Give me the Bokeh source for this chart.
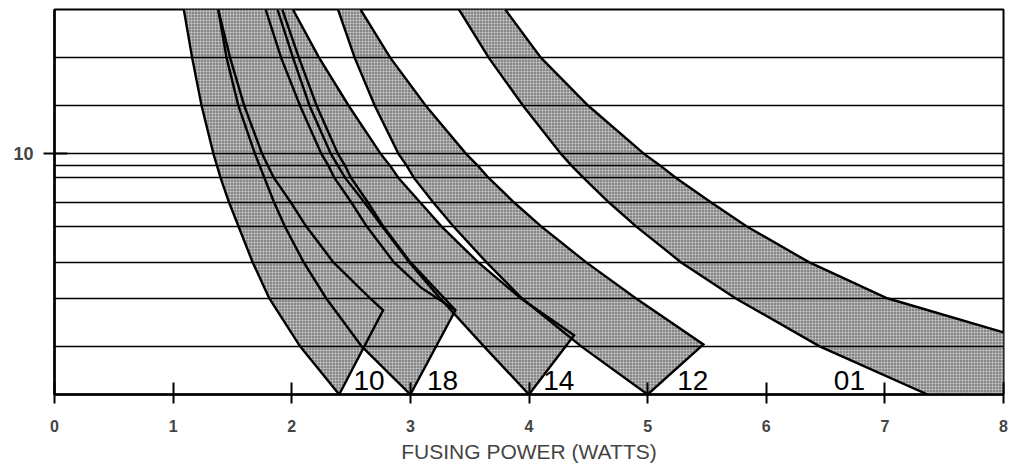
from bokeh.plotting import figure
from bokeh.models import Range1d, FixedTicker
from bokeh.embed import file_html
from bokeh.resources import INLINE
from bokeh.core.properties import value

# ---------------- data ----------------
X_TICKS = [0, 1, 2, 3, 4, 5, 6, 7, 8]
GRID_Y = [1, 2, 2.75, 3.5, 4, 4.5, 4.75, 5, 6, 7]
Y_TICK = [5]
Y_TICK_LABEL = {5: "10"}

# y levels at which the band edges were read
Y_LEV = [8, 7, 6, 5, 4.75, 4.5, 4, 3.5, 2.75, 2, 1, 0]

# band "10"
B10_L = [1.09, 1.16, 1.24, 1.34, 1.37, 1.40, 1.47, 1.55, 1.67, 1.81, 2.07, 2.40]
B10_R = [1.38, 1.48, 1.60, 1.75, 1.80, 1.85, 1.99, 2.12, 2.35, 2.66]
B10_TIP = (2.77, 1.75)
# band "18"
B18_L = [1.38, 1.45, 1.55, 1.69, 1.73, 1.77, 1.85, 1.94, 2.10, 2.29, 2.59, 3.00]
B18_R = [1.92, 2.06, 2.21, 2.39, 2.45, 2.50, 2.64, 2.77, 3.00]
B18_TIP = (3.38, 1.75)
B18_INNER_X = [1.78, 1.91, 2.07, 2.25, 2.31, 2.36, 2.50, 2.63, 2.86, 3.09]
B18_INNER_Y = [8, 7, 6, 5, 4.75, 4.5, 4, 3.5, 2.75, 2.22]
# band "14"
B14_L = [1.88, 2.01, 2.15, 2.33, 2.39, 2.45, 2.61, 2.76, 2.99, 3.25, 3.62, 4.00]
B14_R = [2.01, 2.23, 2.48, 2.75, 2.83, 2.90, 3.08, 3.26, 3.57, 3.93]
B14_TIP = (4.38, 1.23)
# band "12"
B12_L = [2.39, 2.53, 2.70, 2.90, 2.97, 3.03, 3.19, 3.36, 3.64, 3.94, 4.44, 5.00]
B12_R = [2.58, 2.83, 3.13, 3.47, 3.57, 3.66, 3.87, 4.10, 4.48, 4.90]
B12_TIP = (5.47, 1.04)
# band "01"
B01_L = [3.41, 3.66, 3.95, 4.27, 4.36, 4.46, 4.67, 4.90, 5.28, 5.74, 6.45, 7.36]
B01_R = [3.80, 4.10, 4.50, 4.97, 5.11, 5.24, 5.53, 5.83, 6.36, 7.02]
B01_END = (8.0, 1.29)

LABELS = ["10", "18", "14", "12", "01"]
LABEL_X = [2.52, 3.14, 4.12, 5.25, 6.57]
LABEL_Y = 0.1

X_MIN, X_MAX, Y_MIN, Y_MAX = 0, 8, 0, 8

# ---------------- figure ----------------
p = figure(width=1012, height=467,
           x_range=Range1d(X_MIN, X_MAX), y_range=Range1d(Y_MIN, Y_MAX),
           output_backend="svg", toolbar_location=None,
           min_border_left=54, min_border_right=9,
           min_border_top=9, min_border_bottom=73)
p.background_fill_color = "white"
p.border_fill_color = "white"
p.outline_line_color = "black"
p.outline_line_width = 2

tip_bands = [(B10_L, B10_R, B10_TIP), (B18_L, B18_R, B18_TIP),
             (B14_L, B14_R, B14_TIP), (B12_L, B12_R, B12_TIP)]

fill_xs, fill_ys, line_xs, line_ys = [], [], [], []
for lx, rx, tip in tip_bands:
    ry = Y_LEV[:len(rx)]
    xs = list(lx) + [tip[0]] + list(rx)[::-1]
    ys = list(Y_LEV) + [tip[1]] + list(ry)[::-1]
    fill_xs.append(xs)
    fill_ys.append(ys)
    line_xs.append(xs)
    line_ys.append(ys)

# band 01 reaches the right border
r01y = Y_LEV[:len(B01_R)]
fill_xs.append(list(B01_L) + [X_MAX, B01_END[0]] + list(B01_R)[::-1])
fill_ys.append(list(Y_LEV) + [Y_MIN, B01_END[1]] + list(r01y)[::-1])
line_xs.append(list(B01_L))
line_ys.append(list(Y_LEV))
line_xs.append(list(B01_R) + [B01_END[0]])
line_ys.append(list(r01y) + [B01_END[1]])

# inner line in band 18
line_xs.append(list(B18_INNER_X) + [B18_TIP[0]])
line_ys.append(list(B18_INNER_Y) + [B18_TIP[1]])

p.patches(fill_xs, fill_ys, fill_color="#878787", line_color=None,
          hatch_pattern="cross", hatch_color="white", hatch_alpha=0.4,
          hatch_scale=3, hatch_weight=0.8)
p.multi_line(line_xs, line_ys, line_color="black", line_width=2.4,
             line_join="miter")

p.text(x=LABEL_X, y=[LABEL_Y] * len(LABELS), text=LABELS,
       text_font=value("Liberation Sans"), text_font_size="28px",
       text_baseline="bottom", text_align="left", text_color="black")

# grid
p.xgrid.visible = False
p.ygrid.ticker = FixedTicker(ticks=GRID_Y)
p.ygrid.grid_line_color = "black"
p.ygrid.grid_line_width = 1.4
p.ygrid.level = "guide"

# x axis
xa = p.xaxis[0]
xa.ticker = FixedTicker(ticks=X_TICKS)
xa.axis_label = "FUSING POWER (WATTS)"
xa.axis_label_text_font = "Liberation Sans"
xa.axis_label_text_font_size = "21px"
xa.axis_label_text_font_style = "normal"
xa.axis_label_standoff = 5
xa.major_label_text_font = "Liberation Sans"
xa.major_label_text_font_size = "16px"
xa.major_label_text_font_style = "bold"
xa.major_label_standoff = 16
xa.major_tick_in = 12
xa.major_tick_out = 9
xa.major_tick_line_width = 2
xa.axis_line_width = 2.5
xa.minor_tick_line_color = None

# y axis
ya = p.yaxis[0]
ya.ticker = FixedTicker(ticks=Y_TICK)
ya.major_label_overrides = Y_TICK_LABEL
ya.major_label_text_font = "Liberation Sans"
ya.major_label_text_font_size = "18px"
ya.major_label_text_font_style = "bold"
ya.major_label_standoff = 10
ya.major_tick_in = 13
ya.major_tick_out = 11
ya.major_tick_line_width = 2
ya.axis_line_width = 2.5
ya.minor_tick_line_color = None

open("out.html", "w").write(file_html(p, INLINE))
